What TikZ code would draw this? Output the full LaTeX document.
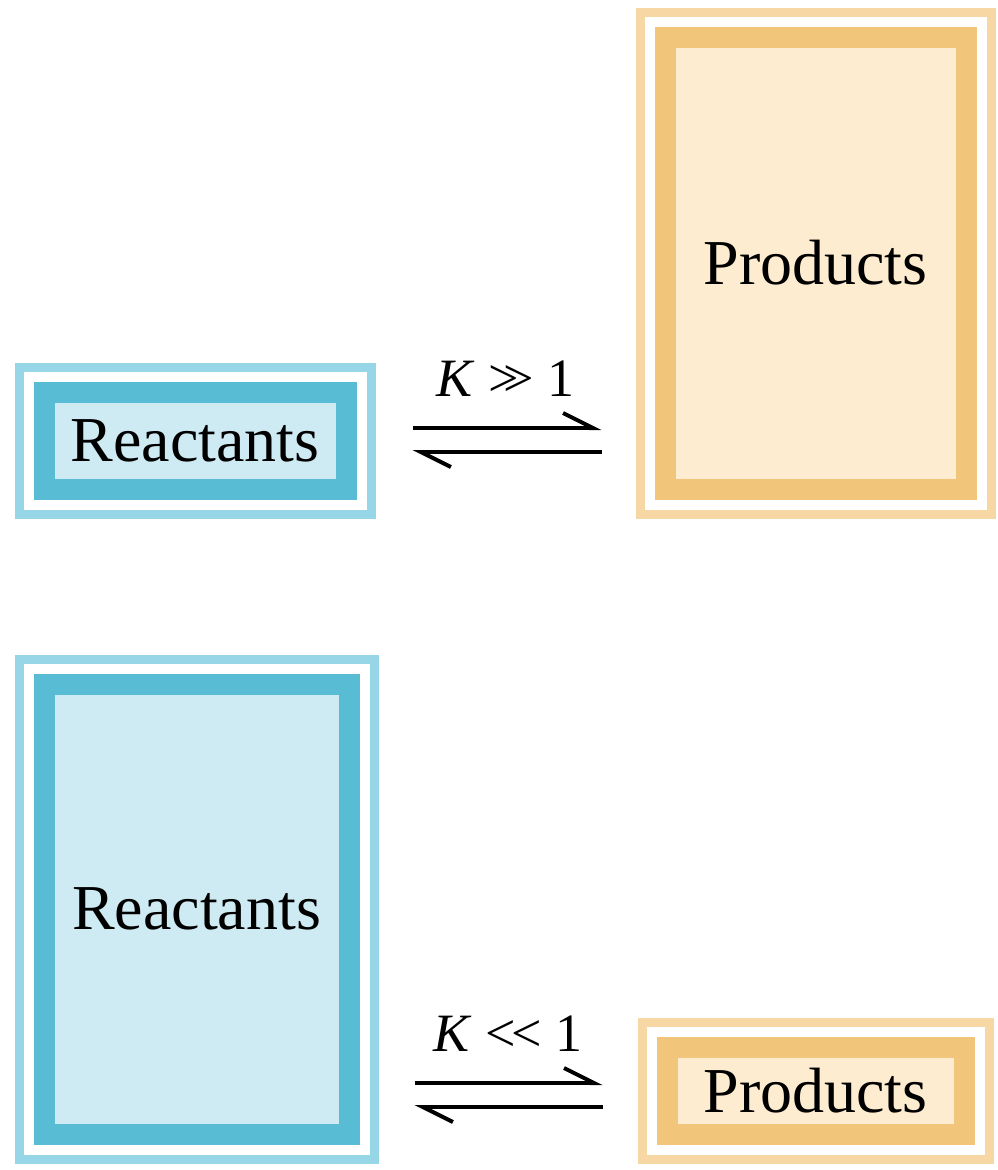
\documentclass[tikz,border=0pt]{standalone}
\usepackage{fontspec}
\setmainfont{Liberation Serif}
\usetikzlibrary{arrows.meta, positioning, calc}
\definecolor{rband}{RGB}{88,188,212}
\definecolor{rfill}{RGB}{206,234,243}
\definecolor{rlight}{RGB}{150,214,230}
\definecolor{pband}{RGB}{242,198,122}
\definecolor{pfill}{RGB}{253,236,208}
\definecolor{plight}{RGB}{247,216,164}
\newcommand{\boxfont}{\fontsize{64}{72}\selectfont}
\newcommand{\kfont}{\fontsize{54}{60}\selectfont}
\tikzstyle{rcell} = [rectangle, draw=rband, fill=rfill, line width=21pt, preaction={draw=rlight, line width=59pt}, preaction={draw=white, line width=41pt}, text centered, font=\boxfont]
\tikzstyle{pcell} = [rectangle, draw=pband, fill=pfill, line width=21pt, preaction={draw=plight, line width=59pt}, preaction={draw=white, line width=41pt}, text centered, font=\boxfont]
\tikzstyle{line} = [draw, line width=4pt, -{Straight Barb[left, length=30pt, width=30pt]}]
\tikzstyle{klabel} = [above=30pt, inner sep=0pt, font=\kfont]

\begin{document}
\begin{tikzpicture}[x=1pt, y=-1pt]
    \useasboundingbox (0,0) rectangle (998,1170);

    % K >> 1
    \node[rcell, minimum width=302pt, minimum height=97pt](reacA) at (195,440.5){Reactants};
    \node[pcell, minimum width=301pt, minimum height=452pt](prodA) at (815.5,263){Products};

    \path[line, shorten <=56pt, shorten >=53pt] ($(reacA.east)+(0,-12.5)$) -- node[klabel]{\textit{K} >\kern-.3em> 1} ($(reacA.east -| prodA.west)+(0,-12.5)$);
    \path[line, shorten <=53pt, shorten >=56pt] ($(reacA.east -| prodA.west)+(0,11.5)$) -- ($(reacA.east)+(0,11.5)$);

    % K << 1
    \node[rcell, minimum width=305pt, minimum height=450pt](reacB) at (196.5,909){Reactants};
    \node[pcell, minimum width=297pt, minimum height=87pt](prodB) at (815.5,1090.5){Products};

    \path[line, shorten <=55pt, shorten >=54pt] ($(prodB.west -| reacB.east)+(0,-7.5)$) -- node[klabel]{\textit{K} <\kern-.08em< 1} ($(prodB.west)+(0,-7.5)$);
    \path[line, shorten <=54pt, shorten >=55pt] ($(prodB.west)+(0,16.5)$) -- ($(prodB.west -| reacB.east)+(0,16.5)$);
\end{tikzpicture}
\end{document}
